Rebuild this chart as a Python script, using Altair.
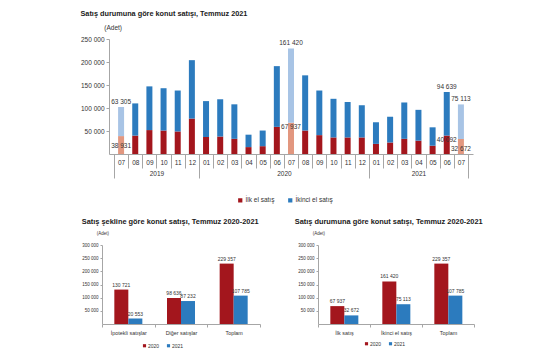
import altair as alt
import pandas as pd

FONT = "Liberation Sans"
RED = "#A3161D"
BLUE = "#2C7BBE"
LRED = "#E2977F"
LBLUE = "#A8C4E5"
GRAY = "#A6A6A6"
TXT = "#333333"

# ---------------- data ----------------
months = ["07", "08", "09", "10", "11", "12",
          "01", "02", "03", "04", "05", "06", "07", "08", "09", "10", "11", "12",
          "01", "02", "03", "04", "05", "06", "07"]
years = ["2019", "2020", "2021"]
ilk = [38931, 40000, 52000, 51000, 49000, 77000,
       37000, 38000, 33000, 15000, 17000, 59000, 67937, 51000, 41000, 36000, 36000, 36000,
       22000, 25000, 33000, 29000, 18000, 40092, 32672]
ikinci = [63305, 70000, 95000, 92000, 89000, 127000,
          78000, 81000, 75000, 27000, 34000, 132000, 161420, 120000, 97000, 84000, 77000, 70000,
          47000, 56000, 79000, 67000, 40000, 94639, 75113]
series = ["İlk el satış", "İkinci el satış"]
labelled = [0, 12, 23, 24]
ilk_low = [0, 24]
ilk_high = [12, 23]
unit = "(Adet)"

cats_left = ["İpotekli satışlar", "Diğer satışlar", "Toplam"]
left_2020 = [130721, 98636, 229357]
left_2021 = [20553, 87232, 107785]
cats_right = ["İlk satış", "İkinci el satış", "Toplam"]
right_2020 = [67937, 161420, 229357]
right_2021 = [32672, 75113, 107785]
yr_keys = ["2020", "2021"]


def fmt(v):
    return f"{v:,}".replace(",", " ")


rows = []
for i, m in enumerate(months):
    for s, vals, o in ((series[0], ilk, 0), (series[1], ikinci, 1)):
        key = s + (" (Temmuz)" if m == "07" else "")
        rows.append(dict(xc=i + 0.5, series=s, key=key, value=vals[i], order=o))
top_df = pd.DataFrame(rows)

tot_df = pd.DataFrame(dict(
    xc=[i + 0.5 for i in labelled],
    value=[ilk[i] + ikinci[i] for i in labelled],
    label=[fmt(ikinci[i]) for i in labelled]))


def ilk_frame(idx):
    return pd.DataFrame(dict(
        xc=[i + 0.5 for i in idx],
        value=[ilk[i] for i in idx],
        label=[fmt(ilk[i]) for i in idx]))


unit_top_df = pd.DataFrame(dict(xc=[0], value=[250000], label=[unit]))

month_arr = "[" + ",".join(f"'{m}'" for m in months) + "]"
xs = alt.Scale(domain=[0, 25], nice=False, zero=False)
ys = alt.Scale(domain=[0, 250000], nice=False)
num_expr = "replace(format(datum.value, ',d'), ',', ' ')"

yaxis_top = alt.Axis(values=[50000, 100000, 150000, 200000, 250000],
                     labelExpr=num_expr, tickSize=3, grid=False,
                     domainColor=GRAY, tickColor=GRAY, labelColor=TXT,
                     labelFontSize=6.5, labelPadding=2, title=None)


def ytext():
    return alt.Y("value:Q", scale=ys, axis=yaxis_top)


bars = alt.Chart(top_df).mark_bar(size=6).encode(
    x=alt.X("xc:Q", scale=xs,
            axis=alt.Axis(orient="bottom", values=[i + 0.5 for i in range(25)],
                          labelExpr=month_arr + "[floor(datum.value)]",
                          tickSize=0, domain=False, grid=False, labelPadding=5,
                          labelFontSize=6.5, labelColor=TXT, labelFlush=False,
                          labelOverlap=False, title=None)),
    y=alt.Y("value:Q", stack="zero", scale=ys, axis=yaxis_top),
    order=alt.Order("order:Q"),
    color=alt.Color("key:N",
                    scale=alt.Scale(domain=[series[0], series[1],
                                            series[0] + " (Temmuz)", series[1] + " (Temmuz)"],
                                    range=[RED, BLUE, LRED, LBLUE]),
                    legend=alt.Legend(values=series, orient="none", legendX=128, legendY=158,
                                      direction="horizontal", title=None, symbolType="square",
                                      symbolSize=18, labelFontSize=6.5, labelColor=TXT,
                                      columnPadding=12, symbolStrokeWidth=0, labelOffset=2)),
)

tot_text = alt.Chart(tot_df).mark_text(font=FONT, fontSize=6.5, color=TXT,
                                       baseline="bottom", dy=-2).encode(
    x=alt.X("xc:Q", scale=xs,
            axis=alt.Axis(orient="bottom", values=list(range(26)), labels=False,
                          tickSize=14, grid=False, domainColor=GRAY, tickColor=GRAY,
                          title=None)),
    y=ytext(),
    text="label:N")

ilk_text_low = alt.Chart(ilk_frame(ilk_low)).mark_text(font=FONT, fontSize=6.5, color=TXT,
                                                       baseline="top", dy=7).encode(
    x=alt.X("xc:Q", scale=xs,
            axis=alt.Axis(orient="bottom", values=[3, 12, 21.5],
                          labelExpr="datum.value < 6 ? '2019' : (datum.value < 18 ? '2020' : '2021')",
                          tickSize=0, domain=False, grid=False, labelPadding=16,
                          labelFontSize=6.5, labelColor=TXT, labelFlush=False,
                          labelOverlap=False, title=None)),
    y=ytext(),
    text="label:N")

ilk_text_high = alt.Chart(ilk_frame(ilk_high)).mark_text(font=FONT, fontSize=6.5, color=TXT,
                                                         baseline="top", dy=1).encode(
    x=alt.X("xc:Q", scale=xs,
            axis=alt.Axis(orient="bottom", values=[0, 6, 18, 25], labels=False,
                          tickSize=24, domain=False, grid=False, tickColor=GRAY,
                          title=None)),
    y=ytext(),
    text="label:N")

unit_top = alt.Chart(unit_top_df).mark_text(font=FONT, fontSize=6.5, color=TXT, align="right",
                                            baseline="middle", dx=8, dy=-11).encode(
    x=alt.X("xc:Q", scale=xs, axis=None),
    y=ytext(),
    text="label:N")

top = alt.layer(bars, tot_text, ilk_text_low, ilk_text_high, unit_top).resolve_axis(
    x="independent").properties(
    width=364, height=115,
    title=alt.TitleParams("Satış durumuna göre konut satışı, Temmuz 2021", anchor="start",
                          font=FONT, fontSize=7.3, fontWeight="bold", color="#1a1a1a",
                          offset=8))


def bottom(cats, v20, v21, title, lx, ly, tdx, width, shift):
    df = pd.DataFrame(dict(
        cat=cats + cats,
        year=[yr_keys[0]] * 3 + [yr_keys[1]] * 3,
        value=v20 + v21,
        label=[fmt(v) for v in v20 + v21]))
    unit_df = pd.DataFrame(dict(cat=[cats[0]], value=[300000], label=[unit]))
    xaxis = alt.Axis(tickBand="extent", title=None, labelAngle=0, labelFontSize=5.4,
                     labelPadding=3, tickSize=3, domainColor=GRAY, tickColor=GRAY,
                     labelColor=TXT, grid=False)
    xscale = alt.Scale(paddingInner=0, paddingOuter=0, range=[-shift, width])
    yaxis = alt.Axis(values=[50000, 100000, 150000, 200000, 250000, 300000],
                     labelExpr=num_expr, tickSize=2, grid=False, offset=shift,
                     domainColor=GRAY, tickColor=GRAY, labelColor=TXT,
                     labelFontSize=4.5, labelPadding=2, title=None)
    yscale = alt.Scale(domain=[0, 300000], nice=False)
    base = alt.Chart(df).encode(
        x=alt.X("cat:N", sort=cats, scale=xscale, axis=xaxis),
        xOffset=alt.XOffset("year:N", sort=yr_keys,
                            scale=alt.Scale(paddingInner=0, paddingOuter=0.88)),
        y=alt.Y("value:Q", scale=yscale, axis=yaxis),
    )
    b = base.mark_bar().encode(
        color=alt.Color("year:N", scale=alt.Scale(domain=yr_keys, range=[RED, BLUE]),
                        legend=alt.Legend(orient="none", legendX=lx, legendY=ly,
                                          direction="horizontal", title=None,
                                          symbolType="square", symbolSize=10,
                                          labelFontSize=5, labelColor=TXT,
                                          columnPadding=6, symbolStrokeWidth=0,
                                          labelOffset=1)))
    t = base.mark_text(font=FONT, fontSize=5, color=TXT, baseline="bottom", dy=-2).encode(
        text="label:N")
    u = alt.Chart(unit_df).mark_text(font=FONT, fontSize=4.5, color=TXT, align="right",
                                     baseline="middle", dx=7, dy=-11).encode(
        x=alt.X("cat:N", sort=cats, scale=xscale, axis=xaxis, bandPosition=0),
        y=alt.Y("value:Q", scale=yscale, axis=yaxis),
        text="label:N")
    return alt.layer(b, t, u).properties(
        width=width, height=79,
        title=alt.TitleParams(title, anchor="start", font=FONT, fontSize=7.4,
                              fontWeight="bold", color="#1a1a1a", offset=6, dx=tdx))


bl = bottom(cats_left, left_2020, left_2021,
            "Satış şekline göre konut satışı, Temmuz 2020-2021", 33, 98, 0, 151, 7)
br = bottom(cats_right, right_2020, right_2021,
            "Satış durumuna göre konut satışı, Temmuz 2020-2021", 46, 96, -3, 156, 0)

row = alt.hconcat(bl, br, spacing=58, bounds="flush").resolve_scale(color="independent")

chart = alt.vconcat(top, row, spacing=91, bounds="flush").resolve_scale(
    color="independent", x="independent", y="independent").properties(
    padding={"left": 80, "top": 9, "right": 5, "bottom": 5}
).configure(font=FONT).configure_view(stroke=None).configure_axis(
    labelFont=FONT, titleFont=FONT).configure_legend(labelFont=FONT)

chart.save("out.html", embed_options={"renderer": "svg", "actions": False})
